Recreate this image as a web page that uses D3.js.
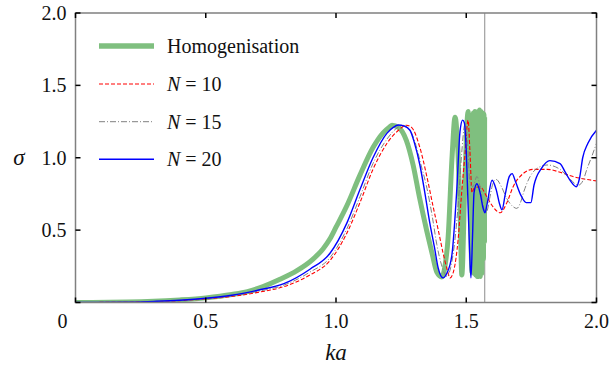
<!DOCTYPE html>
<html>
<head>
<meta charset="utf-8">
<script src="https://cdn.jsdelivr.net/npm/d3@7"></script>
<style>
  html, body { margin: 0; padding: 0; background: #fff; }
  svg text { font-family: "Liberation Serif", "Times New Roman", "DejaVu Serif", serif; }
</style>
</head>
<body>
<div id="chart"></div>
<script>
// chart size and plot box
const width = 610;
const height = 366;
const margin = { top: 13, right: 13.5, bottom: 63.5, left: 75.5 };
const serif = "'Liberation Serif', 'Times New Roman', 'DejaVu Serif', serif";

// tick values / labels
const xTicks = [0.5, 1.0, 1.5, 2.0];
const xTickLabels = ["0.5", "1.0", "1.5", "2.0"];
const yTicks = [0.5, 1.0, 1.5, 2.0];
const yTickLabels = ["0.5", "1.0", "1.5", "2.0"];
const cutoff = Math.PI / 2;

// Homogenisation
const homKa = [0, 0.2, 0.3, 0.4, 0.5, 0.6, 0.66, 0.72, 0.785, 0.85, 0.912, 0.95, 0.977, 1.0, 1.042, 1.092, 1.142, 1.18, 1.207, 1.215, 1.24, 1.27, 1.296, 1.32, 1.349, 1.37, 1.387, 1.406, 1.42, 1.43, 1.446, 1.457, 1.468, 1.476, 1.483, 1.495, 1.507, 1.515, 1.522,
  1.527, 1.530, 1.533, 1.536, 1.539, 1.542, 1.545, 1.548, 1.551, 1.554, 1.557, 1.560, 1.563, 1.566, 1.568, 1.570, 1.5705];
const homSigma = [0, 0.003, 0.008, 0.018, 0.032, 0.055, 0.075, 0.11, 0.16, 0.22, 0.30, 0.37, 0.44, 0.52, 0.67, 0.88, 1.07, 1.17, 1.215, 1.225, 1.21, 1.12, 0.95, 0.73, 0.49, 0.33, 0.21, 0.177, 0.27, 0.44, 1.02, 1.28, 1.05, 0.67, 0.19, 0.85, 1.32, 0.75, 0.21,
  1.31, 0.20, 1.32, 0.19, 1.31, 0.18, 1.32, 0.18, 1.33, 0.18, 1.32, 0.20, 1.31, 0.30, 1.30, 0.42, 1.28];

// N = 10
const n10Ka = [0, 0.2, 0.3, 0.4, 0.5, 0.6, 0.7, 0.8, 0.9, 0.977, 1.042, 1.092, 1.142, 1.196, 1.24, 1.27, 1.29, 1.322, 1.35, 1.372, 1.395, 1.41, 1.425, 1.438, 1.452, 1.469, 1.482, 1.495, 1.507, 1.514, 1.522, 1.53, 1.553, 1.579, 1.603, 1.63, 1.656, 1.68, 1.718, 1.757, 1.81, 1.86, 1.91, 1.963, 2.0];
const n10Sigma = [0, 0.002, 0.006, 0.013, 0.025, 0.042, 0.07, 0.11, 0.19, 0.29, 0.48, 0.69, 0.92, 1.10, 1.19, 1.225, 1.21, 1.07, 0.86, 0.67, 0.48, 0.35, 0.24, 0.17, 0.22, 0.44, 0.75, 1.02, 1.26, 1.05, 0.76, 0.79, 0.80, 0.73, 0.66, 0.62, 0.69, 0.80, 0.89, 0.92, 0.92, 0.90, 0.87, 0.85, 0.84];

// N = 15
const n15Ka = [0, 0.2, 0.3, 0.4, 0.5, 0.6, 0.7, 0.8, 0.9, 0.977, 1.042, 1.092, 1.142, 1.196, 1.23, 1.255, 1.28, 1.303, 1.325, 1.349, 1.37, 1.387, 1.405, 1.426, 1.44, 1.457, 1.47, 1.482, 1.495, 1.505, 1.514, 1.525, 1.541, 1.555, 1.566, 1.577, 1.59, 1.602, 1.615, 1.635, 1.655, 1.675, 1.694, 1.71, 1.72, 1.745, 1.775, 1.81, 1.86, 1.9, 1.93, 1.95, 1.963, 1.98, 2.0];
const n15Sigma = [0, 0.002, 0.007, 0.015, 0.027, 0.046, 0.077, 0.12, 0.21, 0.31, 0.51, 0.73, 0.96, 1.13, 1.2, 1.225, 1.2, 1.11, 0.96, 0.79, 0.59, 0.40, 0.26, 0.18, 0.24, 0.44, 0.70, 1.02, 1.23, 1.1, 0.83, 0.80, 0.87, 0.78, 0.66, 0.62, 0.72, 0.82, 0.85, 0.80, 0.72, 0.67, 0.65, 0.70, 0.76, 0.87, 0.93, 0.95, 0.92, 0.85, 0.81, 0.85, 0.92, 1.0, 1.1];

// N = 20
const n20Ka = [0, 0.2, 0.3, 0.4, 0.5, 0.6, 0.7, 0.8, 0.9, 0.977, 1.042, 1.092, 1.142, 1.196, 1.22, 1.24, 1.26, 1.284, 1.3, 1.322, 1.34, 1.36, 1.378, 1.392, 1.411, 1.425, 1.445, 1.464, 1.476, 1.486, 1.493, 1.5, 1.507, 1.513, 1.518, 1.524, 1.53, 1.541, 1.553, 1.565, 1.572, 1.58, 1.599, 1.615, 1.628, 1.637, 1.65, 1.665, 1.676, 1.69, 1.71, 1.73, 1.748, 1.76, 1.79, 1.821, 1.86, 1.88, 1.9, 1.922, 1.935, 1.947, 1.967, 2.0];
const n20Sigma = [0, 0.002, 0.008, 0.016, 0.029, 0.05, 0.085, 0.13, 0.23, 0.34, 0.55, 0.78, 1.00, 1.17, 1.21, 1.226, 1.22, 1.19, 1.11, 0.95, 0.77, 0.55, 0.38, 0.24, 0.17, 0.20, 0.33, 0.79, 1.18, 1.26, 1.24, 1.05, 0.67, 0.35, 0.17, 0.45, 0.76, 0.82, 0.76, 0.65, 0.62, 0.68, 0.845, 0.78, 0.68, 0.64, 0.75, 0.87, 0.89, 0.83, 0.74, 0.69, 0.69, 0.81, 0.93, 0.98, 0.96, 0.90, 0.84, 0.80, 0.86, 1.0, 1.1, 1.19];

const series = [
  { name: "Homogenisation", ka: homKa, sigma: homSigma, color: "#7fbf7f", width: 5, dash: null, legendWidth: 5.5 },
  { name: "10", ka: n10Ka, sigma: n10Sigma, color: "#ff0000", width: 1.1, dash: "4,2", legendWidth: 1.1 },
  { name: "15", ka: n15Ka, sigma: n15Sigma, color: "#808080", width: 1, dash: "6,2,1,2", legendWidth: 1 },
  { name: "20", ka: n20Ka, sigma: n20Sigma, color: "#0000ff", width: 1.4, dash: null, legendWidth: 1.6 }
];

const svg = d3.select("#chart").append("svg")
  .attr("width", width)
  .attr("height", height)
  .attr("font-family", serif);

const x = d3.scaleLinear().domain([0, 2]).range([margin.left, width - margin.right]);
const y = d3.scaleLinear().domain([0, 2]).range([height - margin.bottom, margin.top]);

svg.append("clipPath").attr("id", "plot-clip")
  .append("rect")
  .attr("x", x(0)).attr("y", y(2))
  .attr("width", x(2) - x(0)).attr("height", y(0) - y(2));

// pi/2 marker
svg.append("line")
  .attr("x1", x(cutoff)).attr("x2", x(cutoff))
  .attr("y1", y(0)).attr("y2", y(2))
  .attr("stroke", "#a0a0a0")
  .attr("stroke-width", 1.2);

const line = d3.line()
  .x(d => x(d[0]))
  .y(d => y(d[1]))
  .curve(d3.curveMonotoneX);

const plot = svg.append("g").attr("clip-path", "url(#plot-clip)");
series.forEach(s => {
  const pts = s.ka.map((k, i) => [k, s.sigma[i]]);
  plot.append("path")
    .attr("d", line(pts))
    .attr("fill", "none")
    .attr("stroke", s.color)
    .attr("stroke-width", s.width)
    .attr("stroke-dasharray", s.dash)
    .attr("stroke-linejoin", "round");
});

// frame
svg.append("rect")
  .attr("x", x(0)).attr("y", y(2))
  .attr("width", x(2) - x(0)).attr("height", y(0) - y(2))
  .attr("fill", "none")
  .attr("stroke", "#808080")
  .attr("stroke-width", 1.5);

// inward ticks on all four sides
const tickLen = 5;
const ticks = svg.append("g").attr("stroke", "#000").attr("stroke-width", 1.5);
[0].concat(xTicks).forEach(t => {
  ticks.append("line").attr("x1", x(t)).attr("x2", x(t)).attr("y1", y(0)).attr("y2", y(0) - tickLen);
  ticks.append("line").attr("x1", x(t)).attr("x2", x(t)).attr("y1", y(2)).attr("y2", y(2) + tickLen);
});
[0].concat(yTicks).forEach(t => {
  ticks.append("line").attr("x1", x(0)).attr("x2", x(0) + tickLen).attr("y1", y(t)).attr("y2", y(t));
  ticks.append("line").attr("x1", x(2)).attr("x2", x(2) - tickLen).attr("y1", y(t)).attr("y2", y(t));
});

// tick labels
const fontSize = 20;
svg.append("g").selectAll("text")
  .data(xTicks)
  .join("text")
  .attr("x", d => x(d))
  .attr("y", y(0) + 25.5)
  .attr("text-anchor", "middle")
  .attr("font-family", serif)
  .attr("font-size", fontSize)
  .attr("fill", "#111")
  .text((d, i) => xTickLabels[i]);

svg.append("g").selectAll("text")
  .data(yTicks)
  .join("text")
  .attr("x", x(0) - 9)
  .attr("y", d => y(d) + 7)
  .attr("text-anchor", "end")
  .attr("font-family", serif)
  .attr("font-size", fontSize)
  .attr("fill", "#111")
  .text((d, i) => yTickLabels[i]);

// shared origin label
svg.append("text")
  .attr("x", x(0) - 13)
  .attr("y", y(0) + 25.5)
  .attr("text-anchor", "middle")
  .attr("font-family", serif)
  .attr("font-size", fontSize)
  .attr("fill", "#111")
  .text("0");

// axis titles
svg.append("text")
  .attr("x", x(1))
  .attr("y", 360)
  .attr("text-anchor", "middle")
  .attr("font-family", serif)
  .attr("font-size", 23)
  .attr("font-style", "italic")
  .attr("fill", "#111")
  .text("ka");

svg.append("text")
  .attr("x", 19)
  .attr("y", 165)
  .attr("text-anchor", "middle")
  .attr("font-family", serif)
  .attr("font-size", 23)
  .attr("font-style", "italic")
  .attr("fill", "#111")
  .text("σ");

// legend
const legendY = [46, 84, 121.7, 159.3];
const legend = svg.append("g");
series.forEach((s, i) => {
  legend.append("line")
    .attr("x1", 99).attr("x2", 154)
    .attr("y1", legendY[i]).attr("y2", legendY[i])
    .attr("stroke", s.color)
    .attr("stroke-width", s.legendWidth)
    .attr("stroke-dasharray", s.dash);
  const t = legend.append("text")
    .attr("x", 167)
    .attr("y", legendY[i] + 7)
    .attr("font-family", serif)
    .attr("font-size", fontSize)
    .attr("fill", "#111");
  if (i === 0) {
    t.text(s.name);
  } else {
    t.append("tspan").attr("font-style", "italic").text("N");
    t.append("tspan").text(" = " + s.name);
  }
});
</script>
</body>
</html>
